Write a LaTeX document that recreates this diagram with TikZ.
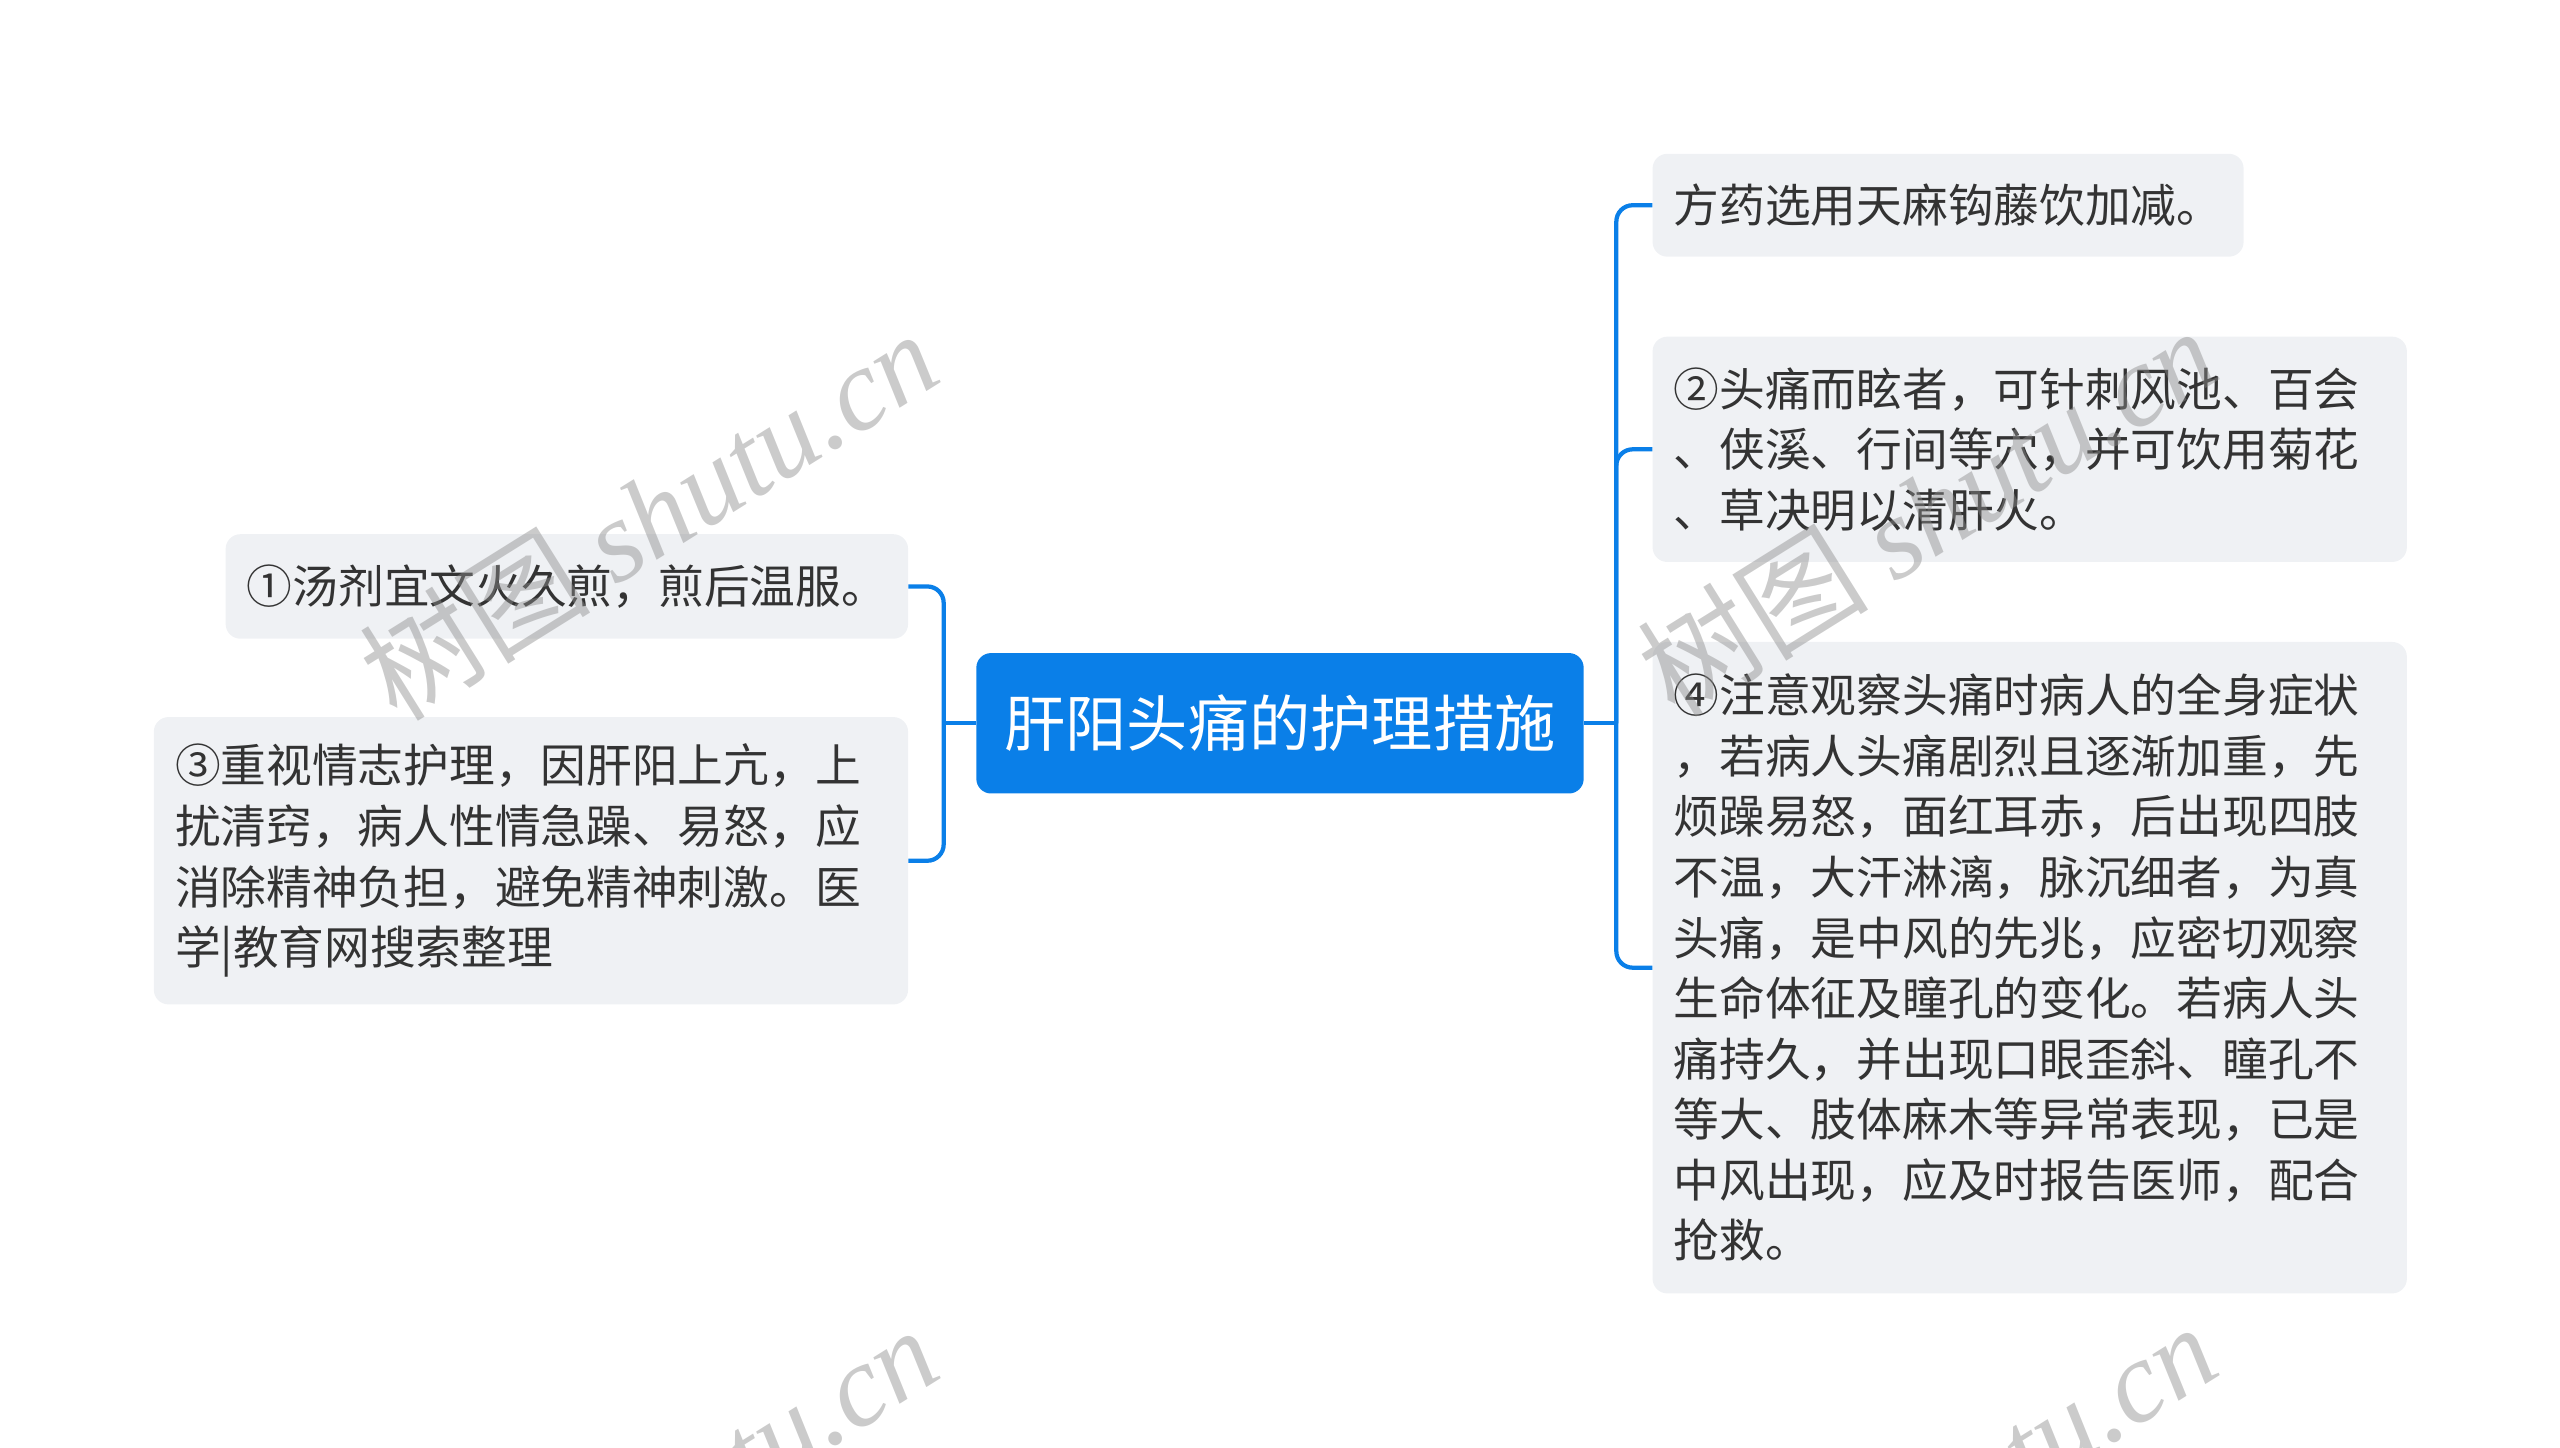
\documentclass[tikz,border=0pt]{standalone}
\usepackage{fontspec}
\setmainfont{Noto Sans CJK SC}
\newfontfamily\wmlatin{Liberation Serif}
\usetikzlibrary{positioning}
\definecolor{mainblue}{RGB}{10,127,232}
\definecolor{leaffill}{RGB}{239,241,244}
\definecolor{leaftext}{RGB}{51,51,51}
\tikzset{
  leaf/.style={fill=leaffill, rounded corners=9pt, anchor=north west, inner xsep=13pt, inner ysep=0pt,
    align=left, text=leaftext, font=\fontsize{28}{37.1}\selectfont},
  rootbox/.style={fill=mainblue, rounded corners=9pt, text=white, inner sep=0pt,
    font=\fontsize{37.5}{44}\selectfont, minimum width=372pt, minimum height=86pt},
  conn/.style={draw=mainblue, line width=2.6pt, rounded corners=10pt},
  wm/.style={text=black!45, opacity=0.45, rotate=32, inner sep=0pt}
}
\begin{document}
\begin{tikzpicture}[x=1pt,y=1pt]
\useasboundingbox (0,0) rectangle (1568,-886.3);
\clip (0,0) rectangle (1568,-886.3);
% central node
\node[rootbox] (c) at (784,-443) {肝阳头痛的护理措施};
% left nodes
\node[leaf, text width=392pt, minimum height=64pt] (l1) at (138,-327) {①汤剂宜文火久煎，煎后温服。};
\node[leaf, text width=436pt, minimum height=176pt] (l3) at (94,-439) {③重视情志护理，因肝阳上亢，上\\扰清窍，病人性情急躁、易怒，应\\消除精神负担，避免精神刺激。医\\学|教育网搜索整理};
% right nodes
\node[leaf, text width=336pt, minimum height=63pt] (r1) at (1012,-94) {方药选用天麻钩藤饮加减。};
\node[leaf, text width=436pt, minimum height=138pt] (r2) at (1012,-206) {②头痛而眩者，可针刺风池、百会\\、侠溪、行间等穴，并可饮用菊花\\、草决明以清肝火。};
\node[leaf, text width=436pt, minimum height=399pt] (r4) at (1012,-393) {④注意观察头痛时病人的全身症状\\，若病人头痛剧烈且逐渐加重，先\\烦躁易怒，面红耳赤，后出现四肢\\不温，大汗淋漓，脉沉细者，为真\\头痛，是中风的先兆，应密切观察\\生命体征及瞳孔的变化。若病人头\\痛持久，并出现口眼歪斜、瞳孔不\\等大、肢体麻木等异常表现，已是\\中风出现，应及时报告医师，配合\\抢救。};
% junctions
\coordinate (jl) at (578,-443);
\coordinate (jr) at (990,-443);
\draw[conn] (c.west) -- (jl);
\draw[conn] (l1.east) -| (jl) |- (l3.east);
\draw[conn] (c.east) -- (jr);
\draw[conn] (r1.west) -| (jr) |- (r4.west);
\draw[conn] (r2.west) -| (jr);
% watermarks
\node[wm] (w1) at (397,-315) {\fontsize{71}{71}\selectfont 树图 {\wmlatin\itshape shutu.cn}};
\node[wm] (w2) at (1180,-313) {\fontsize{71}{71}\selectfont 树图 {\wmlatin\itshape shutu.cn}};
\node[wm] (w3) at (397,-925) {\fontsize{71}{71}\selectfont 树图 {\wmlatin\itshape shutu.cn}};
\node[wm] (w4) at (1180,-923) {\fontsize{71}{71}\selectfont 树图 {\wmlatin\itshape shutu.cn}};
\end{tikzpicture}
\end{document}
